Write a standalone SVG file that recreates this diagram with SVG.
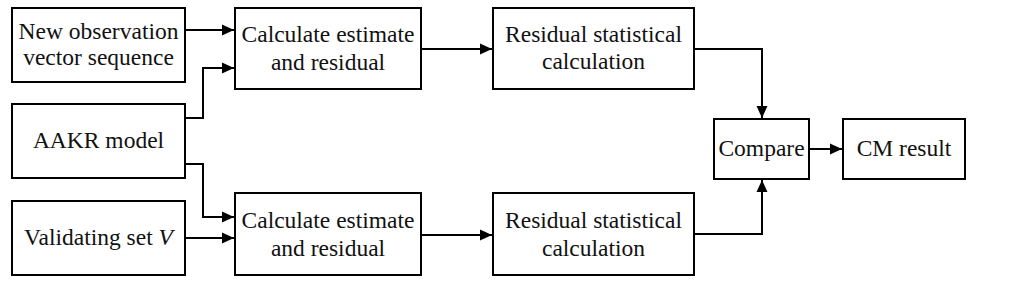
<svg xmlns="http://www.w3.org/2000/svg" width="1024" height="288" viewBox="0 0 1024 288">
<style>
.box{fill:#fff;stroke:#000;stroke-width:2}
.t{font-family:"Liberation Serif","Times New Roman",serif;font-size:23.5px;fill:#111;text-anchor:middle}
.c{fill:none;stroke:#000;stroke-width:2}
</style>
<defs>
<marker id="ah" markerUnits="userSpaceOnUse" markerWidth="12" markerHeight="12" viewBox="0 0 12 12" refX="12" refY="6" orient="auto">
<path d="M0,0.5 L12,6 L0,11.5 Z" fill="#000"/>
</marker>
</defs>
<rect width="1024" height="288" fill="#fff"/>
<g id="connectors">
<path class="c" d="M185,30 H234" marker-end="url(#ah)"/>
<path class="c" d="M185,118 H203 V68 H234" marker-end="url(#ah)"/>
<path class="c" d="M185,164 H203 V217 H234" marker-end="url(#ah)"/>
<path class="c" d="M185,238 H234" marker-end="url(#ah)"/>
<path class="c" d="M421,49 H492" marker-end="url(#ah)"/>
<path class="c" d="M421,235 H492" marker-end="url(#ah)"/>
<path class="c" d="M694,49 H762 V118" marker-end="url(#ah)"/>
<path class="c" d="M694,234 H762 V180" marker-end="url(#ah)"/>
<path class="c" d="M809,149 H842" marker-end="url(#ah)"/>
</g>
<g id="new-obs"><rect class="box" x="12" y="8" width="173" height="74"/>
<text class="t" x="98.5" y="39">New observation</text><text class="t" x="98.5" y="65">vector sequence</text></g>
<g id="aakr"><rect class="box" x="12" y="104" width="173" height="74"/>
<text class="t" x="98.5" y="148">AAKR model</text></g>
<g id="validating"><rect class="box" x="12" y="201" width="173" height="74"/>
<text class="t" x="98.5" y="245">Validating set <tspan font-style="italic">V</tspan></text></g>
<g id="calc-top"><rect class="box" x="235" y="8" width="186" height="81"/>
<text class="t" x="328" y="42">Calculate estimate</text><text class="t" x="328" y="70">and residual</text></g>
<g id="calc-bottom"><rect class="box" x="235" y="193" width="186" height="82"/>
<text class="t" x="328" y="228">Calculate estimate</text><text class="t" x="328" y="256">and residual</text></g>
<g id="resid-top"><rect class="box" x="493" y="8" width="201" height="81"/>
<text class="t" x="593.5" y="42">Residual statistical</text><text class="t" x="593.5" y="69">calculation</text></g>
<g id="resid-bottom"><rect class="box" x="493" y="193" width="201" height="82"/>
<text class="t" x="593.5" y="228">Residual statistical</text><text class="t" x="593.5" y="256">calculation</text></g>
<g id="compare"><rect class="box" x="714" y="119" width="95" height="60"/>
<text class="t" x="761.5" y="156">Compare</text></g>
<g id="cm"><rect class="box" x="843" y="119" width="122" height="60"/>
<text class="t" x="904" y="156">CM result</text></g>
</svg>
